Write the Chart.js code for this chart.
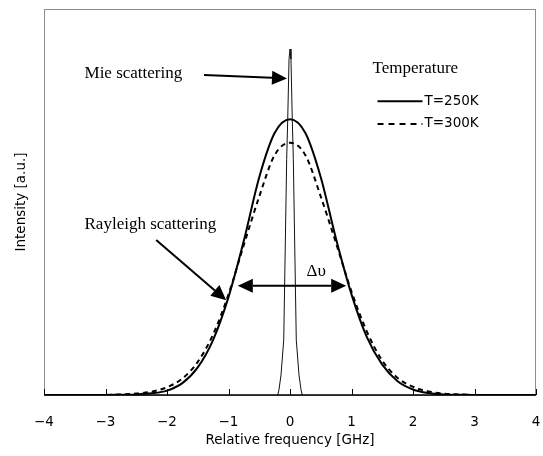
<!DOCTYPE html>
<html>
<head>
<meta charset="utf-8">
<script src="https://cdn.jsdelivr.net/npm/chart.js@4.4.0/dist/chart.umd.min.js"></script>
<style>
  html, body { margin: 0; padding: 0; background: #fff; }
</style>
</head>
<body>
<canvas id="chart" width="543" height="456"></canvas>
<script>
// relative frequency [GHz], read every 0.25 GHz
const freq = [-4, -3.75, -3.5, -3.25, -3, -2.75, -2.5, -2.25, -2, -1.75, -1.5, -1.25, -1, -0.75, -0.5, -0.25,
  0, 0.25, 0.5, 0.75, 1, 1.25, 1.5, 1.75, 2, 2.25, 2.5, 2.75, 3, 3.25, 3.5, 3.75, 4];
const t250 = [0, 0, 0, 0, 0, 0.001, 0.002, 0.006, 0.016, 0.043, 0.1, 0.2, 0.355, 0.56, 0.79, 0.95,
  1.0, 0.95, 0.79, 0.565, 0.365, 0.21, 0.11, 0.05, 0.02, 0.007, 0.002, 0.001, 0, 0, 0, 0, 0];
const t300 = [0, 0, 0, 0, 0, 0.002, 0.005, 0.012, 0.028, 0.06, 0.12, 0.22, 0.365, 0.545, 0.72, 0.87,
  0.915, 0.87, 0.72, 0.55, 0.375, 0.23, 0.125, 0.062, 0.03, 0.013, 0.005, 0.002, 0, 0, 0, 0, 0];
// Mie peak
const mieFreq = [-0.2, -0.18, -0.146, -0.102, -0.054, -0.037, -0.016, 0, 0.016, 0.037, 0.054, 0.102, 0.146, 0.18, 0.2];
const mieInt = [0, 0.018, 0.073, 0.2, 0.855, 1.0, 1.218, 1.255, 1.218, 1.0, 0.855, 0.2, 0.073, 0.018, 0];
const xTicks = [-4, -3, -2, -1, 0, 1, 2, 3, 4];

const sans = 'DejaVu Sans';
const serif = 'Liberation Serif';

const toPoints = (xs, ys) => xs.map((x, i) => ({ x: x, y: ys[i] }));

function arrow(c, x1, y1, x2, y2) {
  const a = Math.atan2(y2 - y1, x2 - x1);
  const len = 15, w = 7;
  const bx = x2 - len * Math.cos(a), by = y2 - len * Math.sin(a);
  c.beginPath();
  c.moveTo(x1, y1);
  c.lineTo(bx, by);
  c.stroke();
  c.beginPath();
  c.moveTo(x2, y2);
  c.lineTo(bx + w * Math.sin(a), by - w * Math.cos(a));
  c.lineTo(bx - w * Math.sin(a), by + w * Math.cos(a));
  c.closePath();
  c.fill();
}

const overlay = {
  id: 'overlay',
  beforeDatasetsDraw(chart) {
    const { ctx, chartArea: a } = chart;
    ctx.save();
    ctx.strokeStyle = '#8c8c8c';
    ctx.lineWidth = 1;
    ctx.strokeRect(a.left + 0.5, a.top + 0.5, a.right - a.left - 1, a.bottom - a.top);
    ctx.restore();
  },
  afterDatasetsDraw(chart) {
    const { ctx, chartArea: a, scales: { x, y } } = chart;
    const px = v => x.getPixelForValue(v);
    const py = v => y.getPixelForValue(v);
    ctx.save();
    // bottom axis and inward ticks
    ctx.strokeStyle = '#000';
    ctx.lineWidth = 1.5;
    ctx.beginPath();
    ctx.moveTo(a.left, a.bottom);
    ctx.lineTo(a.right, a.bottom);
    ctx.stroke();
    ctx.lineWidth = 1;
    xTicks.forEach(t => {
      const tx = Math.round(px(t)) + 0.5;
      ctx.beginPath();
      ctx.moveTo(tx, a.bottom);
      ctx.lineTo(tx, a.bottom - 6);
      ctx.stroke();
    });

    ctx.fillStyle = '#000';
    ctx.textBaseline = 'middle';

    // annotations
    ctx.font = '17px "' + serif + '"';
    ctx.textAlign = 'left';
    ctx.fillText('Mie scattering', px(-3.341), py(1.167));
    ctx.fillText('Rayleigh scattering', px(-3.341), py(0.618));
    ctx.fillText('Temperature', px(1.341), py(1.185));
    ctx.textAlign = 'center';
    ctx.fillText('\u0394\u03c5', px(0.426), py(0.448));

    ctx.lineWidth = 2;
    arrow(ctx, px(-1.398), py(1.161), px(-0.049), py(1.148));
    arrow(ctx, px(-2.176), py(0.562), px(-1.037), py(0.344));
    // double-headed arrow for the width
    const mid = (px(-0.849) + px(0.914)) / 2;
    arrow(ctx, mid, py(0.396), px(-0.849), py(0.396));
    arrow(ctx, mid, py(0.396), px(0.914), py(0.396));

    // legend
    ctx.font = '13.5px "' + sans + '"';
    ctx.textAlign = 'left';
    ctx.lineWidth = 2;
    ctx.beginPath();
    ctx.moveTo(px(1.423), py(1.065));
    ctx.lineTo(px(2.154), py(1.065));
    ctx.stroke();
    ctx.fillText('T=250K', px(2.187), py(1.065));
    ctx.setLineDash([6, 5]);
    ctx.beginPath();
    ctx.moveTo(px(1.423), py(0.983));
    ctx.lineTo(px(2.154), py(0.983));
    ctx.stroke();
    ctx.setLineDash([]);
    ctx.fillText('T=300K', px(2.187), py(0.983));
    ctx.restore();
  }
};

new Chart(document.getElementById('chart'), {
  type: 'line',
  data: {
    datasets: [
      {
        label: 'T=250K',
        data: toPoints(freq, t250),
        borderColor: '#000',
        borderWidth: 2,
        cubicInterpolationMode: 'monotone',
        pointRadius: 0,
        fill: false,
      },
      {
        label: 'T=300K',
        data: toPoints(freq, t300),
        borderColor: '#000',
        borderWidth: 2,
        borderDash: [5, 4],
        cubicInterpolationMode: 'monotone',
        pointRadius: 0,
        fill: false,
      },
      {
        label: 'Mie',
        data: toPoints(mieFreq, mieInt),
        borderColor: '#111',
        borderWidth: 1,
        tension: 0,
        pointRadius: 0,
        fill: false,
      },
    ],
  },
  options: {
    responsive: false,
    animation: false,
    devicePixelRatio: 1,
    layout: { padding: { top: 9, right: 7, left: 0, bottom: 0 } },
    plugins: {
      legend: { display: false },
      tooltip: { enabled: false },
    },
    scales: {
      x: {
        type: 'linear',
        min: -4,
        max: 4,
        afterBuildTicks: s => { s.ticks = xTicks.map(v => ({ value: v })); },
        afterFit: s => { s.height = 61; },
        grid: { display: false, drawTicks: true, tickLength: 19 },
        border: { display: false },
        ticks: {
          color: '#000',
          padding: 0,
          maxRotation: 0,
          font: { family: sans, size: 13.5 },
          callback: v => String(v).replace('-', '\u2212'),
        },
        title: {
          display: true,
          text: 'Relative frequency [GHz]',
          color: '#000',
          font: { family: sans, size: 13.5 },
          padding: { top: 0, bottom: 7 },
        },
      },
      y: {
        min: 0,
        max: 1.4,
        afterFit: s => { s.width = 44; },
        grid: { display: false },
        border: { display: false },
        ticks: { display: false },
        title: {
          display: true,
          text: 'Intensity [a.u.]',
          color: '#000',
          font: { family: sans, size: 13.5 },
          padding: { top: 13, bottom: 0 },
        },
      },
    },
  },
  plugins: [overlay],
});
</script>
</body>
</html>
